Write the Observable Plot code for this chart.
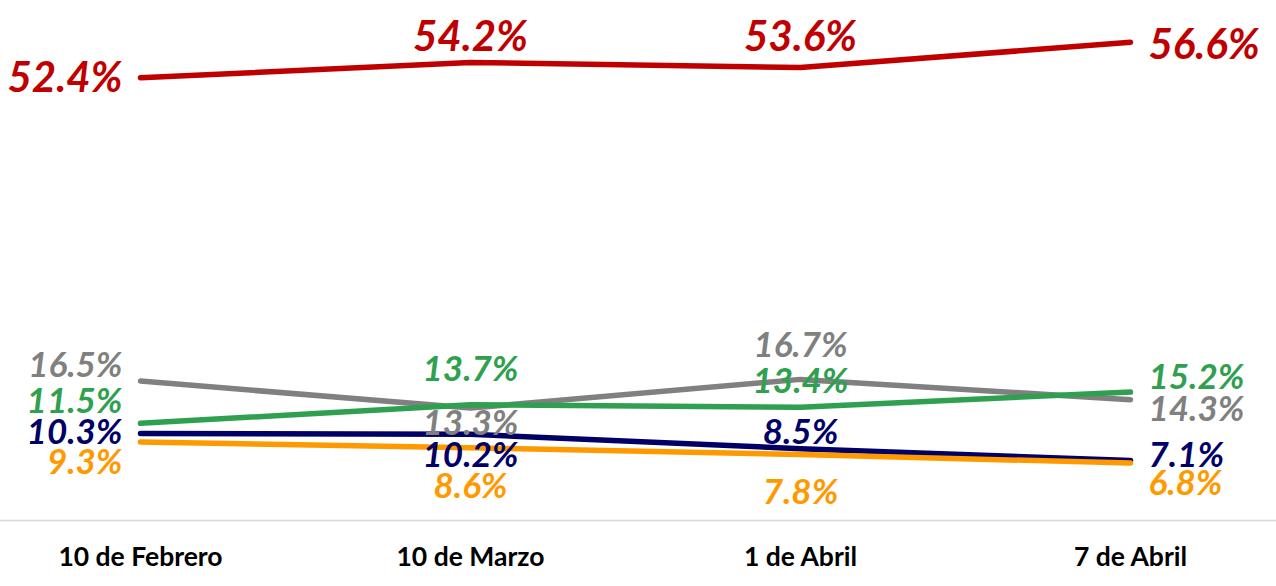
<!DOCTYPE html>
<html>
<head>
<meta charset="utf-8">
<script src="https://cdn.jsdelivr.net/npm/d3@7"></script>
<script src="https://cdn.jsdelivr.net/npm/@observablehq/plot@0.6"></script>
<style>
  html, body { margin: 0; padding: 0; background: #fff; }
  #chart svg { display: block; }
</style>
</head>
<body>
<div id="chart"></div>
<script>
// ---- data ----
const categories = ["10 de Febrero", "10 de Marzo", "1 de Abril", "7 de Abril"];
const seriesNames = ["Serie A", "Serie B", "Serie C", "Serie D", "Serie E"];
const serieA = [52.4, 54.2, 53.6, 56.6];
const serieB = [16.5, 13.3, 16.7, 14.3];
const serieC = [11.5, 13.7, 13.4, 15.2];
const serieD = [10.3, 10.2, 8.5, 7.1];
const serieE = [9.3, 8.6, 7.8, 6.8];
const seriesValues = [serieA, serieB, serieC, serieD, serieE];

// ---- styling (kept apart from data) ----
const colors = ["#C00000", "#808080", "#2EA04F", "#000066", "#FF9900"];
// label offsets [dx, dy] per series, per category
const labelOffsets = [
  [[-18, 1], [0, -25], [0, -30], [18, 3]],
  [[-18, -15], [0, 16], [0, -34], [18, 10]],
  [[-18, -22], [0, -35], [0, -25], [18, -14]],
  [[-18, -1], [0, 21], [0, -16], [18, -5]],
  [[-18, 21], [0, 39], [0, 38], [18, 21]]
];
const labelSizes = [42, 35, 35, 35, 35];
const FONT = "Lato, 'Open Sans', sans-serif";

const rows = [];
seriesValues.forEach((vals, s) => {
  vals.forEach((v, i) => rows.push({series: seriesNames[s], s, i, cat: categories[i], value: v}));
});

const marks = [
  Plot.ruleY([0], {stroke: "#d9d9d9", strokeWidth: 1.5})
];
seriesNames.forEach((name, s) => {
  marks.push(Plot.line(rows.filter(d => d.s === s), {
    x: "cat", y: "value", stroke: colors[s], strokeWidth: 5.5,
    strokeLinecap: "round", strokeLinejoin: "round"
  }));
});
rows.forEach(d => {
  const [dx, dy] = labelOffsets[d.s][d.i];
  const anchor = d.i === 0 ? "end" : d.i === categories.length - 1 ? "start" : "middle";
  marks.push(Plot.text([d], {
    x: "cat", y: "value", text: r => r.value.toFixed(1) + "%",
    fill: colors[d.s], fontSize: labelSizes[d.s], fontWeight: "bold", fontStyle: "italic",
    textAnchor: anchor, dx, dy, lineAnchor: "middle", fontFamily: FONT
  }));
});

const chart = Plot.plot({
  width: 1276,
  height: 586,
  marginTop: 13,
  marginBottom: 66,
  marginLeft: 0,
  marginRight: 0,
  style: {fontFamily: FONT, background: "#fff"},
  x: {type: "point", domain: categories, range: [140, 1130], padding: 0, label: null},
  y: {domain: [0, 60], axis: null},
  marks: [
    ...marks,
    Plot.axisX({tickSize: 0, tickPadding: 27, fontSize: 26.5, fontWeight: "bold", fill: "#000", label: null, fontFamily: FONT})
  ]
});
document.getElementById("chart").appendChild(chart);
</script>
</body>
</html>
